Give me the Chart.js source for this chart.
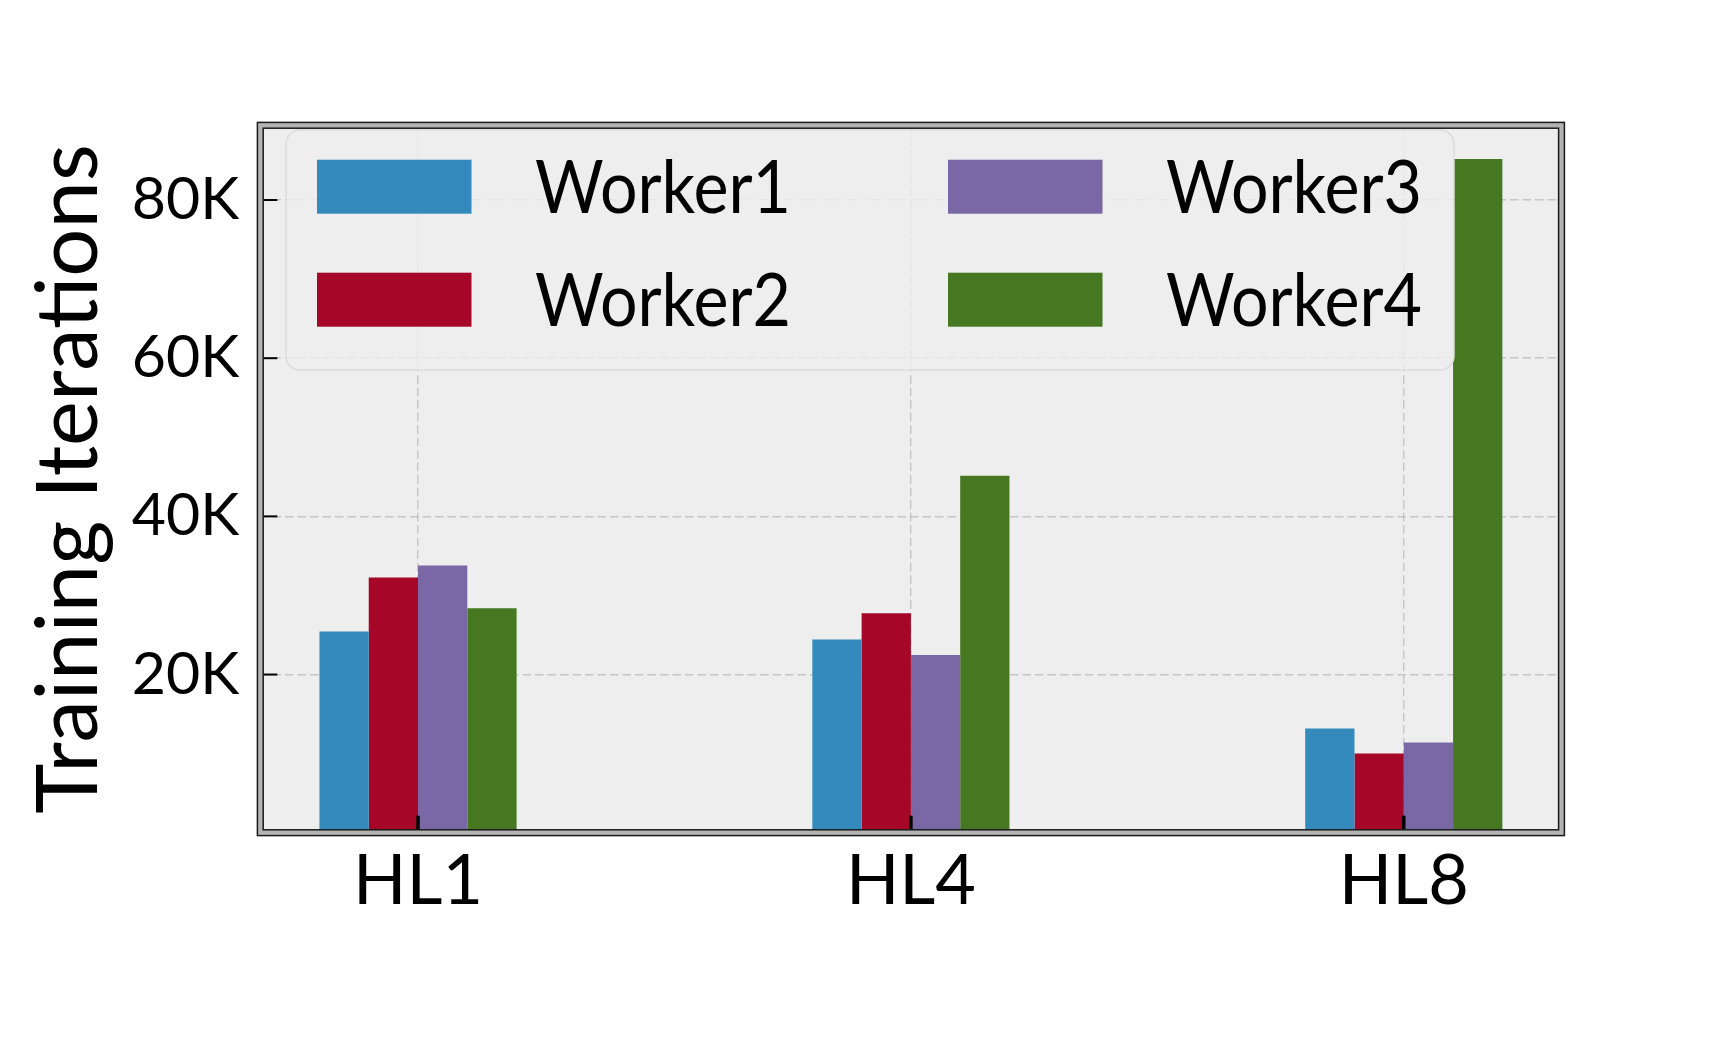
<!DOCTYPE html>
<html><head><meta charset="utf-8">
<script src="https://cdn.jsdelivr.net/npm/chart.js@4"></script>
<style>html,body{margin:0;padding:0;background:#fff;overflow:hidden}</style>
</head><body>
<canvas id="c" width="1735" height="1041"></canvas>
<script>
// ---- data ----
const categories = ['HL1', 'HL4', 'HL8'];
const seriesNames = ['Worker1', 'Worker2', 'Worker3', 'Worker4'];
const worker1 = [25440, 24430, 13190];
const worker2 = [32260, 27750, 10030];
const worker3 = [33780, 22480, 11420];
const worker4 = [28380, 45140, 85190];
const yTickValues = [20000, 40000, 60000, 80000];
const yTickLabels = ['20K', '40K', '60K', '80K'];
const yTitle = 'Training Iterations';

// ---- styles ----
const colors = ['#348ABD', '#A60628', '#7A68A6', '#467821'];
const FONT = 'Lato';
const seriesValues = [worker1, worker2, worker3, worker4];
const yMax = Math.max(...seriesValues.flat()) * 1.05;
const span = (categories.length - 1) + 0.4;
const xMin = -0.2 - 0.05 * span, xMax = (categories.length - 1) + 0.2 + 0.05 * span;

const gridColor = 'rgba(165,165,165,0.55)';

const bgPlugin = {
  id: 'bg',
  beforeDraw(chart) {
    const {ctx, chartArea: a} = chart;
    ctx.save();
    ctx.fillStyle = '#ffffff';
    ctx.fillRect(0, 0, chart.width, chart.height);
    ctx.fillStyle = '#eeeeee';
    ctx.fillRect(a.left, a.top, a.right - a.left, a.bottom - a.top);
    ctx.restore();
  }
};

const legendPlugin = {
  id: 'boxLegend',
  afterDatasetsDraw(chart) {
    const ctx = chart.ctx;
    const bx = 286, by = 130, bw = 1168, bh = 240, r = 14;
    ctx.save();
    ctx.beginPath();
    ctx.roundRect(bx, by, bw, bh, r);
    ctx.fillStyle = 'rgba(238,238,238,0.8)';
    ctx.fill();
    ctx.lineWidth = 1.5;
    ctx.strokeStyle = '#dcdcdc';
    ctx.stroke();
    const colX = [317, 948];
    chart.data.datasets.forEach((ds, i) => {
      const col = Math.floor(i / 2), row = i % 2;
      const px = colX[col], py = 159.7 + row * 113;
      ctx.fillStyle = ds.backgroundColor;
      ctx.fillRect(px, py, 154.5, 54);
      ctx.fillStyle = '#000';
      ctx.font = '73px ' + FONT;
      ctx.textBaseline = 'alphabetic';
      ctx.textAlign = 'left';
      ctx.fillText(ds.label, px + 218, py + 53.6, 256);
    });
    ctx.restore();
  }
};

const framePlugin = {
  id: 'frame',
  afterDraw(chart) {
    const {ctx, chartArea: a, scales} = chart;
    ctx.save();
    // inward ticks
    ctx.strokeStyle = '#000';
    ctx.lineWidth = 2;
    yTickValues.forEach(v => {
      const py = scales.y.getPixelForValue(v);
      ctx.beginPath(); ctx.moveTo(a.left, py); ctx.lineTo(a.left + 17, py); ctx.stroke();
    });
    ctx.lineWidth = 3.5;
    categories.forEach((c, i) => {
      const px = scales.x.getPixelForValue(i);
      ctx.beginPath(); ctx.moveTo(px, a.bottom); ctx.lineTo(px, a.bottom - 17); ctx.stroke();
    });
    // double frame
    ctx.lineWidth = 7.3;
    ctx.strokeStyle = '#1a1a1a';
    ctx.strokeRect(a.left, a.top, a.right - a.left, a.bottom - a.top);
    ctx.lineWidth = 4.3;
    ctx.strokeStyle = '#b3b3b3';
    ctx.strokeRect(a.left, a.top, a.right - a.left, a.bottom - a.top);
    ctx.restore();
  }
};

new Chart(document.getElementById('c'), {
  type: 'bar',
  data: {
    datasets: seriesNames.map((name, k) => ({
      label: name,
      data: categories.map((c, j) => ({x: j, y: seriesValues[k][j]})),
      backgroundColor: colors[k],
      borderWidth: 0,
      barPercentage: 1.0,
      categoryPercentage: 0.4
    }))
  },
  options: {
    responsive: false,
    animation: false,
    devicePixelRatio: 1,
    layout: {padding: {left: 0, top: 125.3, right: 173.5, bottom: 0}},
    plugins: {legend: {display: false}, tooltip: {enabled: false}},
    scales: {
      x: {
        type: 'linear',
        min: xMin, max: xMax,
        offset: false,
        z: 1,
        afterBuildTicks: (axis) => { axis.ticks = categories.map((c, i) => ({value: i})); },
        afterFit: (s) => { s.height = 1041 - 832.7; },
        ticks: {
          autoSkip: false,
          maxRotation: 0,
          padding: 14,
          color: '#000',
          font: {family: FONT, size: 70, lineHeight: 1},
          callback: (v, i) => categories[i]
        },
        grid: {offset: false, color: gridColor, lineWidth: 1.4, drawTicks: false},
        border: {display: false, dash: [8.5, 4]}
      },
      y: {
        type: 'linear',
        min: 0, max: yMax,
        z: 1,
        afterBuildTicks: (axis) => { axis.ticks = yTickValues.map(v => ({value: v})); },
        afterFit: (s) => { s.width = 260.3; },
        ticks: {
          autoSkip: false,
          padding: 21,
          color: '#000',
          font: {family: FONT, size: 59, lineHeight: 1},
          callback: (v, i) => yTickLabels[i]
        },
        grid: {color: gridColor, lineWidth: 1.4, drawTicks: false},
        border: {display: false, dash: [8.5, 4]},
        title: {
          display: true,
          text: yTitle,
          color: '#000',
          font: {family: FONT, size: 85, lineHeight: 1},
          padding: {top: 27, bottom: 0}
        }
      }
    }
  },
  plugins: [bgPlugin, legendPlugin, framePlugin]
});
</script>
</body></html>
